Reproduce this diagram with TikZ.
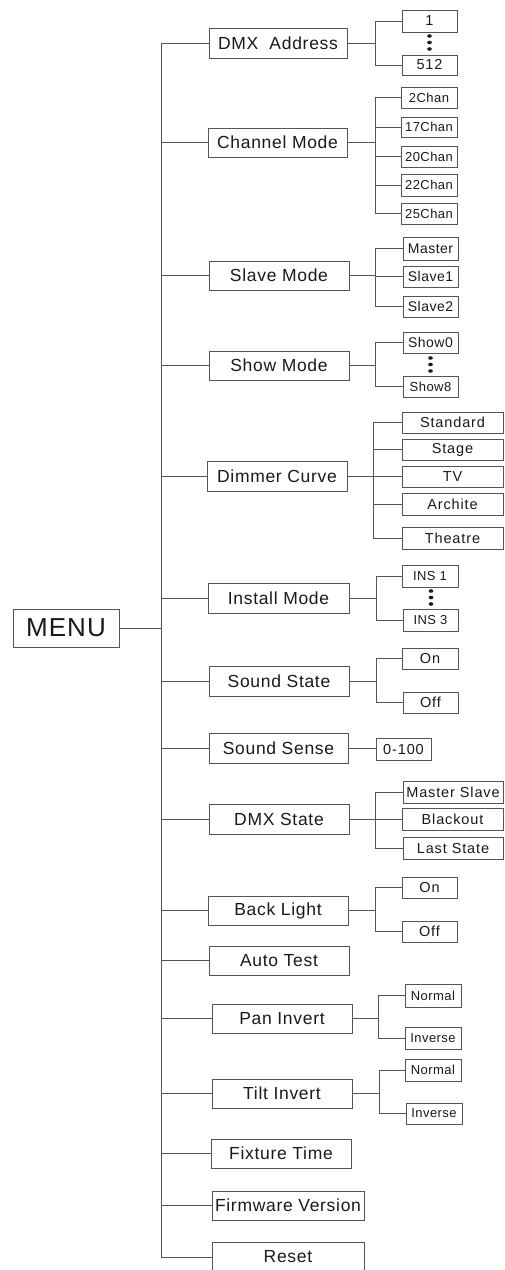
\documentclass[tikz,border=0pt]{standalone}
\usepackage{fontspec}
\setmainfont{Liberation Sans}
\newfontfamily\mfont[LetterSpace=4]{Liberation Sans}
\newfontfamily\sfontx[LetterSpace=3.5]{Liberation Sans}
\newfontfamily\tfontx[LetterSpace=6]{Liberation Sans}
\definecolor{ln}{HTML}{555555}
\definecolor{tx}{HTML}{1A1A1A}
\tikzset{
 base/.style={draw=ln, line width=1pt, rectangle, inner sep=0pt, text=tx},
 mainbox/.style={base, font=\mfont\fontsize{17.5pt}{20pt}\selectfont},
 menubox/.style={base, font=\mfont\fontsize{26pt}{30pt}\selectfont},
 sbox/.style={base, font=\sfontx\fontsize{13pt}{15pt}\selectfont},
 sboxb/.style={base, font=\sfontx\fontsize{14pt}{16pt}\selectfont},
 midbox/.style={base, font=\tfontx\fontsize{14.5pt}{17pt}\selectfont},
 wire/.style={draw=ln, line width=1pt},
}
\newcommand\bx[7]{%
 \pgfmathsetmacro\bxw{#5-#3}\pgfmathsetmacro\bxh{#6-#4}%
 \node[#1, minimum width=\bxw pt, minimum height=\bxh pt] (#2) at ({(#3+#5)/2},{(#4+#6)/2}) {#7};}
\newcommand\brk[4]{%
 \coordinate (#1b) at (#2,0);
 \draw[wire] (#1.east) -- (#1.east -| #1b);
 \draw[wire] (#3.west) -- (#3.west -| #1b) -- (#4.west -| #1b) -- (#4.west);}
\newcommand\tck[2]{\draw[wire] (#1.west) -- (#1.west -| #2b);}
\newcommand\threedots[2]{%
 \fill[tx] (#1,#2) ellipse (2.3 and 1.8);
 \fill[tx] (#1,#2+6.5) ellipse (2.3 and 1.8);
 \fill[tx] (#1,#2+13) ellipse (2.3 and 1.8);}
\begin{document}
\begin{tikzpicture}[x=1pt,y=-1pt]
\useasboundingbox (0,0) rectangle (504,1270);
\fill[white] (0,0) rectangle (504,1270);
% main boxes
\bx{menubox}{menu}{13}{609}{119}{647}{MENU}
\bx{mainbox}{dmx}{209}{28}{347}{58}{DMX\ \ Address}
\bx{mainbox}{chan}{208}{128}{347}{157}{Channel Mode}
\bx{mainbox}{slave}{209}{261}{349}{290}{Slave Mode}
\bx{mainbox}{show}{209}{351}{349}{380}{Show Mode}
\bx{mainbox}{dim}{207}{461}{347}{491}{Dimmer Curve}
\bx{mainbox}{inst}{208}{583}{349}{613}{Install Mode}
\bx{mainbox}{sst}{209}{666}{349}{696}{Sound State}
\bx{mainbox}{sse}{209}{733}{348}{763}{Sound Sense}
\bx{mainbox}{dst}{209}{804}{349}{834}{DMX State}
\bx{mainbox}{back}{208}{896}{348}{925}{Back Light}
\bx{mainbox}{auto}{209}{946}{349}{975}{Auto Test}
\bx{mainbox}{pan}{212}{1004}{352}{1033}{Pan Invert}
\bx{mainbox}{tilt}{212}{1079}{352}{1108}{Tilt Invert}
\bx{mainbox}{fix}{211}{1139}{351}{1168}{Fixture Time}
\bx{mainbox}{firm}{212}{1191}{364}{1220}{Firmware Version}
\bx{mainbox}{reset}{212}{1242}{364}{1272}{Reset}
% trunk
\coordinate (ttop) at (161,0);
\draw[wire] (dmx.west) -- (dmx.west -| ttop) -- (reset.west -| ttop) -- (reset.west);
\draw[wire] (menu.east) -- (menu.east -| ttop);
\foreach \n in {chan,slave,show,dim,inst,sst,sse,dst,back,auto,pan,tilt,fix,firm}
  \draw[wire] (\n.west) -- (\n.west -| ttop);
% DMX Address
\bx{midbox}{d1}{402}{10}{457}{32}{1}
\bx{midbox}{d512}{402}{55}{457}{75}{512}
\threedots{429.5}{36}
\brk{dmx}{375}{d1}{d512}
% Channel Mode
\bx{sbox}{c2}{401}{87}{457}{108}{2Chan}
\bx{sbox}{c17}{401}{117}{457}{137}{17Chan}
\bx{sbox}{c20}{401}{146}{457}{167}{20Chan}
\bx{sbox}{c22}{401}{174}{457}{196}{22Chan}
\bx{sbox}{c25}{401}{203}{457}{224}{25Chan}
\brk{chan}{375}{c2}{c25}
\tck{c17}{chan}\tck{c20}{chan}\tck{c22}{chan}
% Slave Mode
\bx{sboxb}{sm}{403}{237}{458}{260}{Master}
\bx{sboxb}{s1}{403}{266}{458}{287}{Slave1}
\bx{sboxb}{s2}{403}{296}{458}{317}{Slave2}
\brk{slave}{375}{sm}{s2}
\tck{s1}{slave}
% Show Mode
\bx{sboxb}{sh0}{403}{332}{458}{353}{Show0}
\bx{sbox}{sh8}{403}{376}{458}{397}{Show8}
\threedots{430.5}{358}
\brk{show}{375}{sh0}{sh8}
% Dimmer Curve
\bx{midbox}{dstd}{402}{412}{503}{433}{Standard}
\bx{midbox}{dstg}{402}{439}{503}{460}{Stage}
\bx{midbox}{dtv}{402}{466}{503}{487}{TV}
\bx{midbox}{darc}{402}{493}{503}{515}{Archite}
\bx{midbox}{dthe}{402}{527}{503}{549}{Theatre}
\brk{dim}{373}{dstd}{dthe}
\tck{dstg}{dim}\tck{dtv}{dim}\tck{darc}{dim}
% Install Mode
\bx{sbox}{i1}{402}{565}{458}{587}{INS 1}
\bx{sbox}{i3}{403}{609}{458}{631}{INS 3}
\threedots{431}{591}
\brk{inst}{376}{i1}{i3}
% Sound State
\bx{midbox}{son}{402}{648}{458}{669}{On}
\bx{midbox}{soff}{403}{692}{458}{713}{Off}
\brk{sst}{376}{son}{soff}
% Sound Sense
\bx{midbox}{sval}{376}{738}{431}{760}{0-100}
\draw[wire] (sse.east) -- (sse.east -| sval.west);
% DMX State
\bx{midbox}{dms}{403}{781}{503}{803}{Master Slave}
\bx{midbox}{dbo}{402}{808}{503}{830}{Blackout}
\bx{midbox}{dls}{403}{837}{503}{859}{Last State}
\brk{dst}{375}{dms}{dls}
\tck{dbo}{dst}
% Back Light
\bx{midbox}{bon}{402}{877}{457}{898}{On}
\bx{midbox}{boff}{402}{921}{457}{942}{Off}
\brk{back}{375}{bon}{boff}
% Pan Invert
\bx{sbox}{pn}{405}{984}{461}{1007}{Normal}
\bx{sbox}{pi}{405}{1027}{461}{1049}{Inverse}
\brk{pan}{378}{pn}{pi}
% Tilt Invert
\bx{sbox}{tn}{405}{1059}{461}{1081}{Normal}
\bx{sbox}{ti}{406}{1103}{462}{1124}{Inverse}
\brk{tilt}{379}{tn}{ti}
\end{tikzpicture}
\end{document}
